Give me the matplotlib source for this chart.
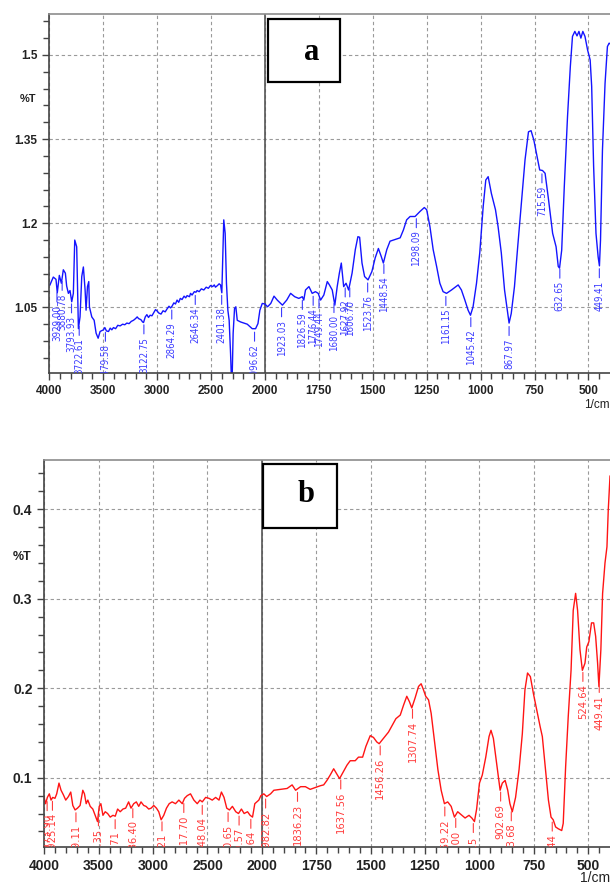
import os
import numpy as np
import matplotlib
matplotlib.use('Agg')
import matplotlib.pyplot as plt
from matplotlib import font_manager
from matplotlib.font_manager import FontProperties
from matplotlib.patches import Rectangle

# --- spectrum a (blue) ---
a_wn = [3994, 3963, 3938, 3926, 3907, 3888, 3870, 3851, 3839, 3823, 3808, 3792, 3777, 3764, 3746,
        3730, 3715, 3699, 3684, 3668, 3659, 3646, 3634, 3628, 3606, 3584, 3566, 3547, 3529,
        3498, 3485, 3470, 3451, 3435, 3420, 3405, 3385, 3365, 3343, 3320, 3300, 3281, 3260,
        3240, 3219, 3200, 3185, 3172, 3150, 3135, 3126, 3110, 3095, 3080, 3065, 3048, 3030,
        3015, 3002, 2985, 2964, 2945, 2925, 2909, 2890, 2875, 2862, 2845, 2830, 2815, 2800,
        2785, 2769, 2750, 2735, 2722, 2700, 2690, 2676, 2655, 2640, 2629, 2610, 2590, 2567,
        2545, 2525, 2505, 2485, 2470, 2459, 2440, 2425, 2412, 2400, 2382, 2369, 2357, 2344,
        2332, 2319, 2307, 2295, 2282, 2270, 2257, 2226, 2164, 2118, 2087, 2065, 2047, 2025,
        2000, 1988, 1973, 1958, 1943, 1919, 1899, 1881, 1862, 1843, 1827, 1820, 1812, 1796,
        1781, 1766, 1753, 1742, 1727, 1711, 1701, 1688, 1676, 1665, 1655, 1646, 1635, 1624,
        1612, 1596, 1581, 1569, 1561, 1550, 1538, 1522, 1504, 1489, 1474, 1461, 1451, 1435,
        1420, 1396, 1373, 1358, 1343, 1327, 1304, 1281, 1261, 1250, 1235, 1220, 1204, 1189,
        1174, 1158, 1135, 1104, 1089, 1073, 1058, 1047, 1035, 1019, 1004, 988, 976, 965, 950,
        931, 919, 904, 889, 868, 858, 843, 828, 812, 794, 778, 766, 753, 738, 726, 713, 701,
        685, 666, 650, 640, 634, 624, 612, 597, 584, 574, 563, 553, 544, 535, 526, 516, 504,
        492, 485, 476, 465, 455, 449, 444, 435, 423, 412, 404, 400]
a_tr = [1.090, 1.104, 1.100, 1.076, 1.107, 1.093, 1.117, 1.111, 1.088, 1.075, 1.080, 1.060, 1.075, 1.170, 1.158,
        1.012, 1.033, 1.105, 1.122, 1.081, 1.045, 1.087, 1.096, 1.051, 1.033, 1.027, 1.004, 0.995, 1.007,
        1.010, 1.014, 1.008, 1.007, 1.013, 1.010, 1.014, 1.012, 1.018, 1.017, 1.020, 1.019, 1.022, 1.021,
        1.025, 1.027, 1.030, 1.033, 1.030, 1.028, 1.024, 1.023, 1.033, 1.037, 1.032, 1.036, 1.035, 1.041,
        1.046, 1.044, 1.040, 1.038, 1.044, 1.042, 1.047, 1.052, 1.049, 1.052, 1.058, 1.056, 1.063, 1.059,
        1.066, 1.064, 1.070, 1.067, 1.071, 1.069, 1.075, 1.072, 1.078, 1.077, 1.080, 1.078, 1.083, 1.081,
        1.086, 1.084, 1.089, 1.087, 1.090, 1.086, 1.089, 1.092, 1.090, 1.076, 1.206, 1.182, 1.093, 1.045,
        1.027, 0.968, 0.900, 1.004, 1.048, 1.051, 1.027, 1.024, 1.020, 1.012, 1.012, 1.021, 1.045, 1.057,
        1.056, 1.051, 1.057, 1.070, 1.063, 1.054, 1.063, 1.075, 1.069, 1.066, 1.069, 1.063, 1.081, 1.087,
        1.075, 1.078, 1.075, 1.063, 1.072, 1.096, 1.090, 1.081, 1.054, 1.087, 1.111, 1.129, 1.087, 1.093,
        1.081, 1.111, 1.153, 1.176, 1.175, 1.129, 1.105, 1.099, 1.114, 1.138, 1.155, 1.141, 1.129, 1.153,
        1.168, 1.171, 1.174, 1.188, 1.206, 1.212, 1.212, 1.221, 1.228, 1.224, 1.194, 1.153, 1.123, 1.093,
        1.078, 1.075, 1.081, 1.090, 1.081, 1.063, 1.045, 1.036, 1.051, 1.093, 1.147, 1.230, 1.277, 1.283, 1.253,
        1.224, 1.194, 1.147, 1.081, 1.022, 1.039, 1.087, 1.158, 1.230, 1.313, 1.363, 1.365, 1.348, 1.319, 1.295, 1.294, 1.289,
        1.242, 1.182, 1.158, 1.123, 1.120, 1.152, 1.265, 1.390, 1.479, 1.533, 1.542, 1.534, 1.542, 1.530, 1.542, 1.533, 1.509,
        1.491, 1.444, 1.302, 1.182, 1.140, 1.124, 1.170, 1.330, 1.449, 1.515, 1.521, 1.520]
a_peaks = ['3929.00', '3880.78', '3793.93', '3722.61', '3479.58', '3122.75', '2864.29', '2646.34',
           '2401.38', '2096.62', '1923.03', '1826.59', '1776.44', '1749.44', '1680.00', '1627.92',
           '1606.70', '1523.76', '1448.54', '1298.09', '1161.15', '1045.42', '867.97', '715.59',
           '632.65', '449.41']

# --- spectrum b (red) ---
b_wn = [4000, 3988, 3972, 3954, 3938, 3923, 3902, 3886, 3865, 3846, 3825, 3803, 3778, 3757, 3738,
        3717, 3695, 3671, 3646, 3631, 3615, 3600, 3578, 3554, 3532, 3511, 3495, 3480, 3461, 3440,
        3418, 3394, 3369, 3348, 3326, 3302, 3277, 3252, 3225, 3203, 3178, 3154, 3132, 3111, 3086,
        3065, 3040, 3018, 2994, 2969, 2948, 2926, 2902, 2877, 2852, 2825, 2794, 2763, 2732, 2711,
        2686, 2656, 2625, 2594, 2569, 2548, 2517, 2486, 2456, 2425, 2394, 2372, 2348, 2323, 2298,
        2271, 2240, 2215, 2188, 2163, 2132, 2108, 2086, 2065, 2046, 2028, 2009, 1991, 1978, 1960,
        1945, 1914, 1884, 1861, 1845, 1822, 1800, 1778, 1755, 1732, 1716, 1701, 1686, 1670, 1655,
        1643, 1625, 1609, 1594, 1571, 1556, 1537, 1522, 1502, 1487, 1472, 1461, 1441, 1418, 1400,
        1384, 1364, 1349, 1334, 1322, 1311, 1296, 1280, 1268, 1257, 1247, 1234, 1222, 1207, 1191,
        1176, 1161, 1146, 1130, 1115, 1100, 1081, 1066, 1048, 1035, 1023, 1013, 1000, 987, 971,
        956, 947, 936, 921, 905, 895, 882, 870, 860, 849, 834, 818, 803, 791, 779, 766, 752, 737,
        721, 711, 699, 683, 671, 661, 650, 638, 622, 615, 604, 592, 579, 569, 558, 549, 538, 527,
        515, 507, 497, 485, 475, 466, 457, 451, 442, 434, 423, 414, 408, 400]
b_tr = [0.077, 0.071, 0.078, 0.082, 0.075, 0.078, 0.077, 0.082, 0.094, 0.086, 0.081, 0.075, 0.079, 0.084, 0.069,
        0.064, 0.066, 0.069, 0.086, 0.082, 0.071, 0.075, 0.068, 0.065, 0.058, 0.051, 0.068, 0.071, 0.058, 0.062,
        0.060, 0.056, 0.058, 0.057, 0.065, 0.062, 0.065, 0.066, 0.073, 0.066, 0.071, 0.073, 0.068, 0.073, 0.069,
        0.068, 0.065, 0.066, 0.069, 0.066, 0.062, 0.053, 0.058, 0.066, 0.071, 0.073, 0.071, 0.075, 0.071, 0.077,
        0.080, 0.082, 0.075, 0.071, 0.075, 0.073, 0.078, 0.077, 0.075, 0.078, 0.075, 0.084, 0.078, 0.066, 0.064,
        0.068, 0.062, 0.060, 0.065, 0.060, 0.062, 0.058, 0.056, 0.071, 0.073, 0.075, 0.080, 0.082, 0.079, 0.082,
        0.086, 0.087, 0.088, 0.092, 0.086, 0.090, 0.090, 0.087, 0.089, 0.091, 0.092, 0.097, 0.103, 0.110, 0.104,
        0.099, 0.107, 0.114, 0.119, 0.119, 0.123, 0.123, 0.135, 0.147, 0.145, 0.140, 0.138, 0.144, 0.151, 0.159,
        0.166, 0.170, 0.181, 0.191, 0.185, 0.178, 0.189, 0.202, 0.205, 0.198, 0.191, 0.187, 0.172, 0.142, 0.109,
        0.086, 0.071, 0.073, 0.068, 0.056, 0.062, 0.058, 0.055, 0.058, 0.055, 0.051, 0.065, 0.094, 0.103, 0.123,
        0.146, 0.153, 0.144, 0.116, 0.086, 0.094, 0.097, 0.086, 0.071, 0.062, 0.078, 0.109, 0.149, 0.198, 0.217, 0.213, 0.194, 0.176,
        0.157, 0.146, 0.116, 0.075, 0.056, 0.053, 0.045, 0.043, 0.041, 0.049, 0.112, 0.168, 0.220, 0.287, 0.306, 0.287, 0.243, 0.220,
        0.228, 0.246, 0.252, 0.273, 0.273, 0.258, 0.228, 0.202, 0.243, 0.306, 0.340, 0.358, 0.399, 0.437]
b_peaks = ['3973.90', '3925.14', '3709.11', '3502.35', '3348.71', '3186.40', '2918.21', '2717.70',
           '2548.04', '2310.65', '2209.57', '2101.64', '1982.82', '1836.23', '1637.56', '1456.26',
           '1307.74', '1159.22', '1109.00', '1028.15', '902.69', '853.68', '665.44', '524.64', '449.41']

x_major = [4000, 3500, 3000, 2500, 2000, 1750, 1500, 1250, 1000, 750, 500]
x_minor = list(range(4000, 2000, -100)) + list(range(2000, 400, -50))
a_yticks = [1.05, 1.2, 1.35, 1.5]
a_ylabels = ['1.05', '1.2', '1.35', '1.5']
b_yticks = [0.1, 0.2, 0.3, 0.4]
b_ylabels = ['0.1', '0.2', '0.3', '0.4']


# instrument axis: 4000-2000 at half the density of 2000-400
def fwd(x):
    x = np.asarray(x, dtype=float)
    return np.where(x >= 2000, x - 2000, 2 * (x - 2000))


def inv(u):
    u = np.asarray(u, dtype=float)
    return np.where(u >= 0, u + 2000, u / 2 + 2000)


# peak labels look best in a narrow face, if one is around
narrow_files = [f.fname for f in font_manager.fontManager.ttflist
                if os.path.basename(f.fname) in ('LiberationSansNarrow-Regular.ttf',
                                                 'DejaVuSansCondensed.ttf')]


def peak_font(size):
    if narrow_files:
        return FontProperties(fname=narrow_files[0], size=size)
    return FontProperties(family='Liberation Sans', size=size - 0.5)


def setup(ax, yticks, ylabels, ylim, yminor, fs):
    ax.set_xscale('function', functions=(fwd, inv))
    ax.set_xlim(4000, 400)
    ax.set_ylim(*ylim)
    ax.set_xticks(x_major, [str(v) for v in x_major])
    ax.set_xticks(x_minor, minor=True)
    ax.set_yticks(yticks, ylabels)
    ax.set_yticks(yminor, minor=True)
    ax.grid(True, which='major', ls=(0, (3, 2.5)), color='#9a9a9a', lw=0.8)
    ax.axvline(2000, color='#555555', lw=1.2)
    ax.spines['right'].set_visible(False)
    ax.spines['top'].set_color('#8c8c8c')
    ax.spines['left'].set_color('#444444')
    ax.spines['bottom'].set_color('#444444')
    for s in ('top', 'left', 'bottom'):
        ax.spines[s].set_linewidth(1.2)
    ax.tick_params(which='both', direction='out', color='#444444', width=1.0,
                   labelsize=fs, labelcolor='#222222')
    ax.tick_params(which='major', length=5)
    ax.tick_params(which='minor', length=4)
    for lab in ax.get_xticklabels() + ax.get_yticklabels():
        lab.set_family('Liberation Sans')
        lab.set_fontweight('bold')


def mark_peaks(ax, wn, tr, peaks, color, fs):
    wn = np.asarray(wn)[::-1]
    tr = np.asarray(tr)[::-1]
    for lab in peaks:
        p = float(lab)
        y = np.interp(p, wn, tr)
        ax.annotate(lab, xy=(p, y), xytext=(0, -11), textcoords='offset points',
                    rotation=90, ha='center', va='top', color=color,
                    fontproperties=peak_font(fs), clip_on=True,
                    arrowprops=dict(arrowstyle='-', color=color, lw=0.8,
                                    shrinkA=0, shrinkB=2.5))


fig = plt.figure(figsize=(6.1, 8.86), dpi=100)

ax1 = fig.add_axes([49.3 / 610, 513 / 886, 560.7 / 610, 359 / 886])
setup(ax1, a_yticks, a_ylabels, (0.933, 1.573), np.arange(0.96, 1.57, 0.03), 8.5)
ax1.plot(a_wn, a_tr, color='#1414ff', lw=1.0)
mark_peaks(ax1, a_wn, a_tr, a_peaks, '#3c3cff', 7)
ax1.text(-0.038, 0.763, '%T', transform=ax1.transAxes, ha='center', va='center',
         fontsize=8, fontweight='bold', family='Liberation Sans', color='#222222')
ax1.text(1.0, -0.089, '1/cm', transform=ax1.transAxes, ha='right', va='center',
         fontsize=8.5, family='Liberation Sans', color='#222222')

ax2 = fig.add_axes([44.3 / 610, 39 / 886, 565.7 / 610, 387 / 886])
setup(ax2, b_yticks, b_ylabels, (0.0226, 0.455), np.arange(0.04, 0.455, 0.02), 10)
ax2.plot(b_wn, b_tr, color='#ff1414', lw=1.0)
mark_peaks(ax2, b_wn, b_tr, b_peaks, '#ff3c3c', 8)
ax2.text(-0.039, 0.749, '%T', transform=ax2.transAxes, ha='center', va='center',
         fontsize=9, fontweight='bold', family='Liberation Sans', color='#222222')
ax2.text(1.0, -0.08, '1/cm', transform=ax2.transAxes, ha='right', va='center',
         fontsize=10, family='Liberation Sans', color='#222222')

# panel letters in framed boxes
for (x0, y0, w, h), (tx, ty), letter in [((268, 19, 72, 63), (312, 52), 'a'),
                                         ((263, 464, 74, 64), (306, 494), 'b')]:
    fig.patches.append(Rectangle((x0 / 610, 1 - (y0 + h) / 886), w / 610, h / 886,
                                 transform=fig.transFigure, fill=True, facecolor='white',
                                 edgecolor='black', lw=1.6, zorder=5))
    fig.text(tx / 610, 1 - ty / 886, letter, ha='center', va='center', fontsize=22,
             fontweight='bold', family='Liberation Serif', zorder=6)

fig.savefig('out.png', dpi=100)
